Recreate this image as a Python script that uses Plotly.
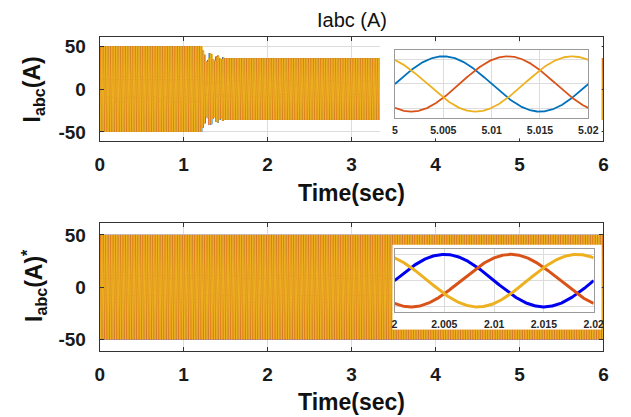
import numpy as np
import plotly.graph_objects as go

# ---- figure size (px) ----
W, H = 631, 417

# ---- axis ticks / labels ----
time_ticks = [0, 1, 2, 3, 4, 5, 6]
current_ticks = [-50, 0, 50]
current_labels = ["-50", "0", "50"]
zoom_top_ticks = [5, 5.005, 5.01, 5.015, 5.02]
zoom_top_labels = ["5", "5.005", "5.01", "5.015", "5.02"]
zoom_bot_ticks = [2, 2.005, 2.01, 2.015, 2.02]
zoom_bot_labels = ["2", "2.005", "2.01", "2.015", "2.02"]

# ---- three-phase current parameters ----
phase_names = ["Ia", "Ib", "Ic"]
phase_shift_deg = [0, -120, 120]
freq_hz = 50.0
t_end = 6.0

# measured current: amplitude before the load step, per-cycle peaks during
# the transient, and the settled amplitude afterwards
meas_pre_amp = 50.0
meas_step_time = 1.22
meas_transient_amps = [45, 40, 32, 34, 42, 41, 35, 33, 38, 39, 36, 35, 37, 36]
meas_steady_amp = 36.0

# reference current amplitude
ref_amp = 50.0

colors_meas = ["#0072BD", "#D95319", "#EDB120"]
colors_ref = ["#0000F0", "#D95319", "#EDB120"]

FONT = "Liberation Sans, Arial, sans-serif"


def meas_amplitude(t):
    a = np.full_like(t, meas_steady_amp)
    a[t < meas_step_time] = meas_pre_amp
    k = np.floor((t - meas_step_time) * freq_hz).astype(int)
    m = (t >= meas_step_time) & (k < len(meas_transient_amps))
    a[m] = np.asarray(meas_transient_amps, dtype=float)[k[m]]
    return a


def phase_current(t, amp, shift_deg):
    return amp * np.sin(2 * np.pi * freq_hz * t + np.deg2rad(shift_deg))


t_full = np.linspace(0, t_end, 30001)
t_zoom_top = np.linspace(5.0, 5.02, 401)
t_zoom_bot = np.linspace(2.0, 2.02, 401)

fig = go.Figure()

# main traces
for name, sh, c in zip(phase_names, phase_shift_deg, colors_meas):
    fig.add_trace(go.Scatter(x=t_full, y=phase_current(t_full, meas_amplitude(t_full), sh),
                             mode="lines", line=dict(color=c, width=1), name=name,
                             xaxis="x", yaxis="y", showlegend=False))
for name, sh, c in zip(phase_names, phase_shift_deg, colors_ref):
    fig.add_trace(go.Scatter(x=t_full, y=phase_current(t_full, ref_amp, sh),
                             mode="lines", line=dict(color=c, width=1), name=name + "*",
                             xaxis="x2", yaxis="y2", showlegend=False))

# plain white backing panels for the zoom views (x3/y3 and x4/y4)
for ax in ("3", "4"):
    fig.add_trace(go.Scatter(x=[0, 1, 1, 0, 0], y=[0, 0, 1, 1, 0], mode="lines",
                             fill="toself", fillcolor="white", line=dict(width=0),
                             hoverinfo="skip", showlegend=False,
                             xaxis="x" + ax, yaxis="y" + ax))

# zoom views (x5/y5 and x6/y6)
for name, sh, c in zip(phase_names, phase_shift_deg, colors_meas):
    fig.add_trace(go.Scatter(x=t_zoom_top, y=phase_current(t_zoom_top, meas_amplitude(t_zoom_top), sh),
                             mode="lines", line=dict(color=c, width=1.8), name=name,
                             xaxis="x5", yaxis="y5", showlegend=False))
for name, sh, c in zip(phase_names, phase_shift_deg, colors_ref):
    fig.add_trace(go.Scatter(x=t_zoom_bot, y=phase_current(t_zoom_bot, ref_amp, sh),
                             mode="lines", line=dict(color=c, width=3), name=name + "*",
                             xaxis="x6", yaxis="y6", showlegend=False))


def px_x(p):
    return p / W


def px_y(p):
    return 1 - p / H


# pixel boxes: (left, right, top, bottom)
box_top = (97, 613, 36, 141)
box_bot = (97, 613, 223.5, 351.5)
box_zt = (399.5, 597.5, 49, 117.7)
box_zb = (399, 603, 249.3, 312.7)
panel_top = (384, 611, 42, 138)
panel_bot = (397, 611, 245, 330)

main_y_range = [-61, 61]
zt_y_range = [-44.5, 44.5]
zb_y_range = [-60, 60]
zt_grid = [-32, 0, 32]
zb_grid = [-50, 0, 50]

grid_c = "#dcdcdc"
tick_font = dict(family=FONT, size=19, color="#1a1a1a", weight="bold")


def main_x(box, anchor):
    return dict(domain=[px_x(box[0]), px_x(box[1])], anchor=anchor, range=[0, 6],
                tickvals=time_ticks, showgrid=True, gridcolor=grid_c, zeroline=False,
                showline=True, linecolor="#333333", linewidth=1, mirror="ticks",
                ticks="inside", ticklen=4, tickcolor="#333333", tickfont=tick_font,
                ticklabelstandoff=6)


def main_y(box, anchor):
    return dict(domain=[px_y(box[3]), px_y(box[2])], anchor=anchor, range=main_y_range,
                tickvals=current_ticks, ticktext=current_labels, showgrid=True,
                gridcolor=grid_c, zeroline=False,
                showline=True, linecolor="#333333", linewidth=1, mirror="ticks",
                ticks="inside", ticklen=4, tickcolor="#333333", tickfont=tick_font,
                ticklabelstandoff=9)


def panel_axes(box, anchor, is_x):
    if is_x:
        dom = [px_x(box[0]), px_x(box[1])]
    else:
        dom = [px_y(box[3]), px_y(box[2])]
    return dict(domain=dom, anchor=anchor, range=[0, 1], visible=False,
                showgrid=False, zeroline=False, fixedrange=True)


def zoom_x(box, anchor, rng, vals, labels):
    return dict(domain=[px_x(box[0]), px_x(box[1])], anchor=anchor, range=rng,
                tickvals=vals, ticktext=labels, showgrid=True, gridcolor=grid_c,
                zeroline=False, showline=True, linecolor="#9a9a9a", linewidth=1,
                mirror=True, ticks="", tickfont=dict(family=FONT, size=10.5,
                                                     color="#262626", weight="bold"),
                ticklabelstandoff=2)


def zoom_y(box, anchor, rng, grid):
    return dict(domain=[px_y(box[3]), px_y(box[2])], anchor=anchor, range=rng,
                tickvals=grid, showticklabels=False, showgrid=True, gridcolor=grid_c,
                zeroline=False, showline=True, linecolor="#9a9a9a", linewidth=1,
                mirror=True, ticks="")


fig.update_layout(
    width=W, height=H, margin=dict(l=0, r=0, t=0, b=0),
    paper_bgcolor="white", plot_bgcolor="white",
    xaxis=main_x(box_top, "y"), yaxis=main_y(box_top, "x"),
    xaxis2=main_x(box_bot, "y2"), yaxis2=main_y(box_bot, "x2"),
    xaxis3=panel_axes(panel_top, "y3", True), yaxis3=panel_axes(panel_top, "x3", False),
    xaxis4=panel_axes(panel_bot, "y4", True), yaxis4=panel_axes(panel_bot, "x4", False),
    xaxis5=zoom_x(box_zt, "y5", [5, 5.02], zoom_top_ticks, zoom_top_labels),
    yaxis5=zoom_y(box_zt, "x5", zt_y_range, zt_grid),
    xaxis6=zoom_x(box_zb, "y6", [2, 2.02], zoom_bot_ticks, zoom_bot_labels),
    yaxis6=zoom_y(box_zb, "x6", zb_y_range, zb_grid),
)

title_font = dict(family=FONT, size=23, color="#111111", weight="bold")


def label(text, x, y, font, angle=0):
    fig.add_annotation(text=text, x=px_x(x), y=px_y(y), xref="paper", yref="paper",
                       xanchor="center", yanchor="middle", showarrow=False,
                       textangle=angle, font=font)


label("Iabc (A)", 355, 19, dict(family=FONT, size=20, color="#111111"))
label("Time(sec)", 355, 193, title_font)
label("Time(sec)", 355, 403, title_font)
label("I<sub>abc</sub>(A)", 29, 88.5, title_font, -90)
label("I<sub>abc</sub>(A)<sup>*</sup>", 29, 286, title_font, -90)

fig.write_html("out.html")
